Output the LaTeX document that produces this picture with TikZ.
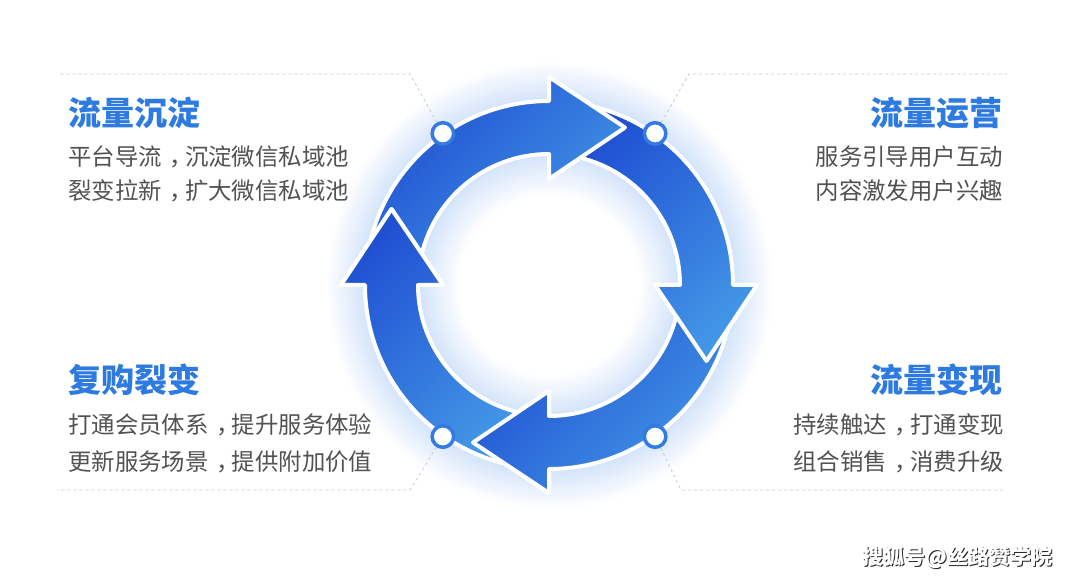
\documentclass[tikz,border=0pt]{standalone}
\usepackage{fontspec}
\setmainfont{Noto Sans CJK SC}
\newcommand\cm{\hspace{0.33em}\makebox[0.67em][l]{，}}
\definecolor{arrdark}{RGB}{32,80,210}
\definecolor{arrlight}{RGB}{66,150,230}
\definecolor{ttl}{RGB}{45,122,225}
\definecolor{txt}{RGB}{82,82,82}
\definecolor{mk}{RGB}{52,122,226}
\definecolor{glow}{RGB}{210,227,250}
\definecolor{dashc}{RGB}{205,205,205}
\pgfdeclareradialshading{inglow}{\pgfpoint{0bp}{0bp}}{color(0bp)=(white); color(17bp)=(white); color(25bp)=(glow); color(50bp)=(glow)}
\pgfdeclareradialshading{outglow}{\pgfpoint{0bp}{0bp}}{color(0bp)=(glow); color(20.5bp)=(glow); color(25bp)=(white); color(50bp)=(white)}
\begin{document}
\begin{tikzpicture}[x=1pt,y=1pt,
  arr/.style={top color=arrdark, bottom color=arrlight, shading angle=45, draw=white, line width=4pt, line join=round},
  ringdot/.style={circle, draw=mk, fill=white, line width=3.5pt, minimum size=21.5pt, inner sep=0pt},
  dline/.style={draw=dashc, line width=0.8pt, dash pattern=on 3pt off 3pt},
  ttlL/.style={font=\bfseries\fontsize{33}{33}\selectfont, text=ttl, inner sep=0pt, anchor=west},
  ttlR/.style={font=\bfseries\fontsize{33}{33}\selectfont, text=ttl, inner sep=0pt, anchor=east},
  txtL/.style={font=\fontsize{23.4}{23.4}\selectfont, text=txt, inner sep=0pt, anchor=west},
  txtR/.style={font=\fontsize{23.4}{23.4}\selectfont, text=txt, inner sep=0pt, anchor=east}
]
\useasboundingbox (0,0) rectangle (1080,582);
\fill[white] (0,0) rectangle (1080,582);
\begin{scope}[shift={(549,297)}]
  % glows
  \path[shading=outglow] (0,0) circle[radius=224];
  \path[shading=inglow] (0,0) circle[radius=131];
  % arrows: bodies and heads
  \def\arrT{\path[arr] (170:184) arc[start angle=170,end angle=90,radius=184] -- (90:208) -- ([shift={(0:76)}]90:157.5) -- (90:106) -- (90:131) arc[start angle=90,end angle=170,radius=131] -- cycle;}
  \def\arrR{\path[arr] (80:184) arc[start angle=80,end angle=0,radius=184] -- (0:208) -- ([shift={(-90:76)}]0:157.5) -- (0:106) -- (0:131) arc[start angle=0,end angle=80,radius=131] -- cycle;}
  \def\arrB{\path[arr] (-10:184) arc[start angle=-10,end angle=-90,radius=184] -- (-90:208) -- ([shift={(180:76)}]-90:157.5) -- (-90:106) -- (-90:131) arc[start angle=-90,end angle=-10,radius=131] -- cycle;}
  \def\arrL{\path[arr] (260:184) arc[start angle=260,end angle=180,radius=184] -- (180:208) -- ([shift={(90:76)}]180:157.5) -- (180:106) -- (180:131) arc[start angle=180,end angle=260,radius=131] -- cycle;}
  \arrT
  \arrR
  \arrB
  \arrL
  % heads again, each over the following arrow's tail
  \begin{scope}\clip (-3,0) rectangle (260,260); \arrT \end{scope}
  \begin{scope}\clip (0,3) rectangle (260,-260); \arrR \end{scope}
  \begin{scope}\clip (3,0) rectangle (-260,-260); \arrB \end{scope}
  \begin{scope}\clip (0,-3) rectangle (-260,260); \arrL \end{scope}
  % markers
  \node[ringdot] (mTL) at (125:185) {};
  \node[ringdot] (mTR) at (55:185) {};
  \node[ringdot] (mBL) at (235:185) {};
  \node[ringdot] (mBR) at (-55:185) {};
\end{scope}
% dashed guide lines
\coordinate (cTL1) at (410,508); \coordinate (cTL2) at (58,508);
\coordinate (cTR1) at (689,508); \coordinate (cTR2) at (1007,508);
\coordinate (cBL1) at (410,92);  \coordinate (cBL2) at (57,92);
\coordinate (cBR1) at (681,92);  \coordinate (cBR2) at (1005,92);
\draw[dline] (mTL) -- (cTL1) -- (cTL2);
\draw[dline] (mTR) -- (cTR1) -- (cTR2);
\draw[dline] (mBL) -- (cBL1) -- (cBL2);
\draw[dline] (mBR) -- (cBR1) -- (cBR2);
% texts
\node[ttlL] (t1) at (68,469) {流量沉淀};
\node[txtL] (t1a) at (68,425) {平台导流\cm 沉淀微信私域池};
\node[txtL] (t1b) at (68,391) {裂变拉新\cm 扩大微信私域池};
\node[ttlR] (t2) at (1003,469) {流量运营};
\node[txtR] (t2a) at (1003,425) {服务引导用户互动};
\node[txtR] (t2b) at (1003,391) {内容激发用户兴趣};
\node[ttlL] (t3) at (68,202) {复购裂变};
\node[txtL] (t3a) at (68,157) {打通会员体系\cm 提升服务体验};
\node[txtL] (t3b) at (68,120) {更新服务场景\cm 提供附加价值};
\node[ttlR] (t4) at (1003,202) {流量变现};
\node[txtR] (t4a) at (1004,157) {持续触达\cm 打通变现};
\node[txtR] (t4b) at (1004,120) {组合销售\cm 消费升级};
% watermark
\node[font=\bfseries\fontsize{21}{21}\selectfont, text=black!85, inner sep=0pt, anchor=west] (wms) at (863.5,23.5) {搜狐号@丝路赞学院};
\node[font=\bfseries\fontsize{21}{21}\selectfont, text=white, inner sep=0pt, anchor=west] (wm) at (862,25) {搜狐号@丝路赞学院};
\end{tikzpicture}
\end{document}
